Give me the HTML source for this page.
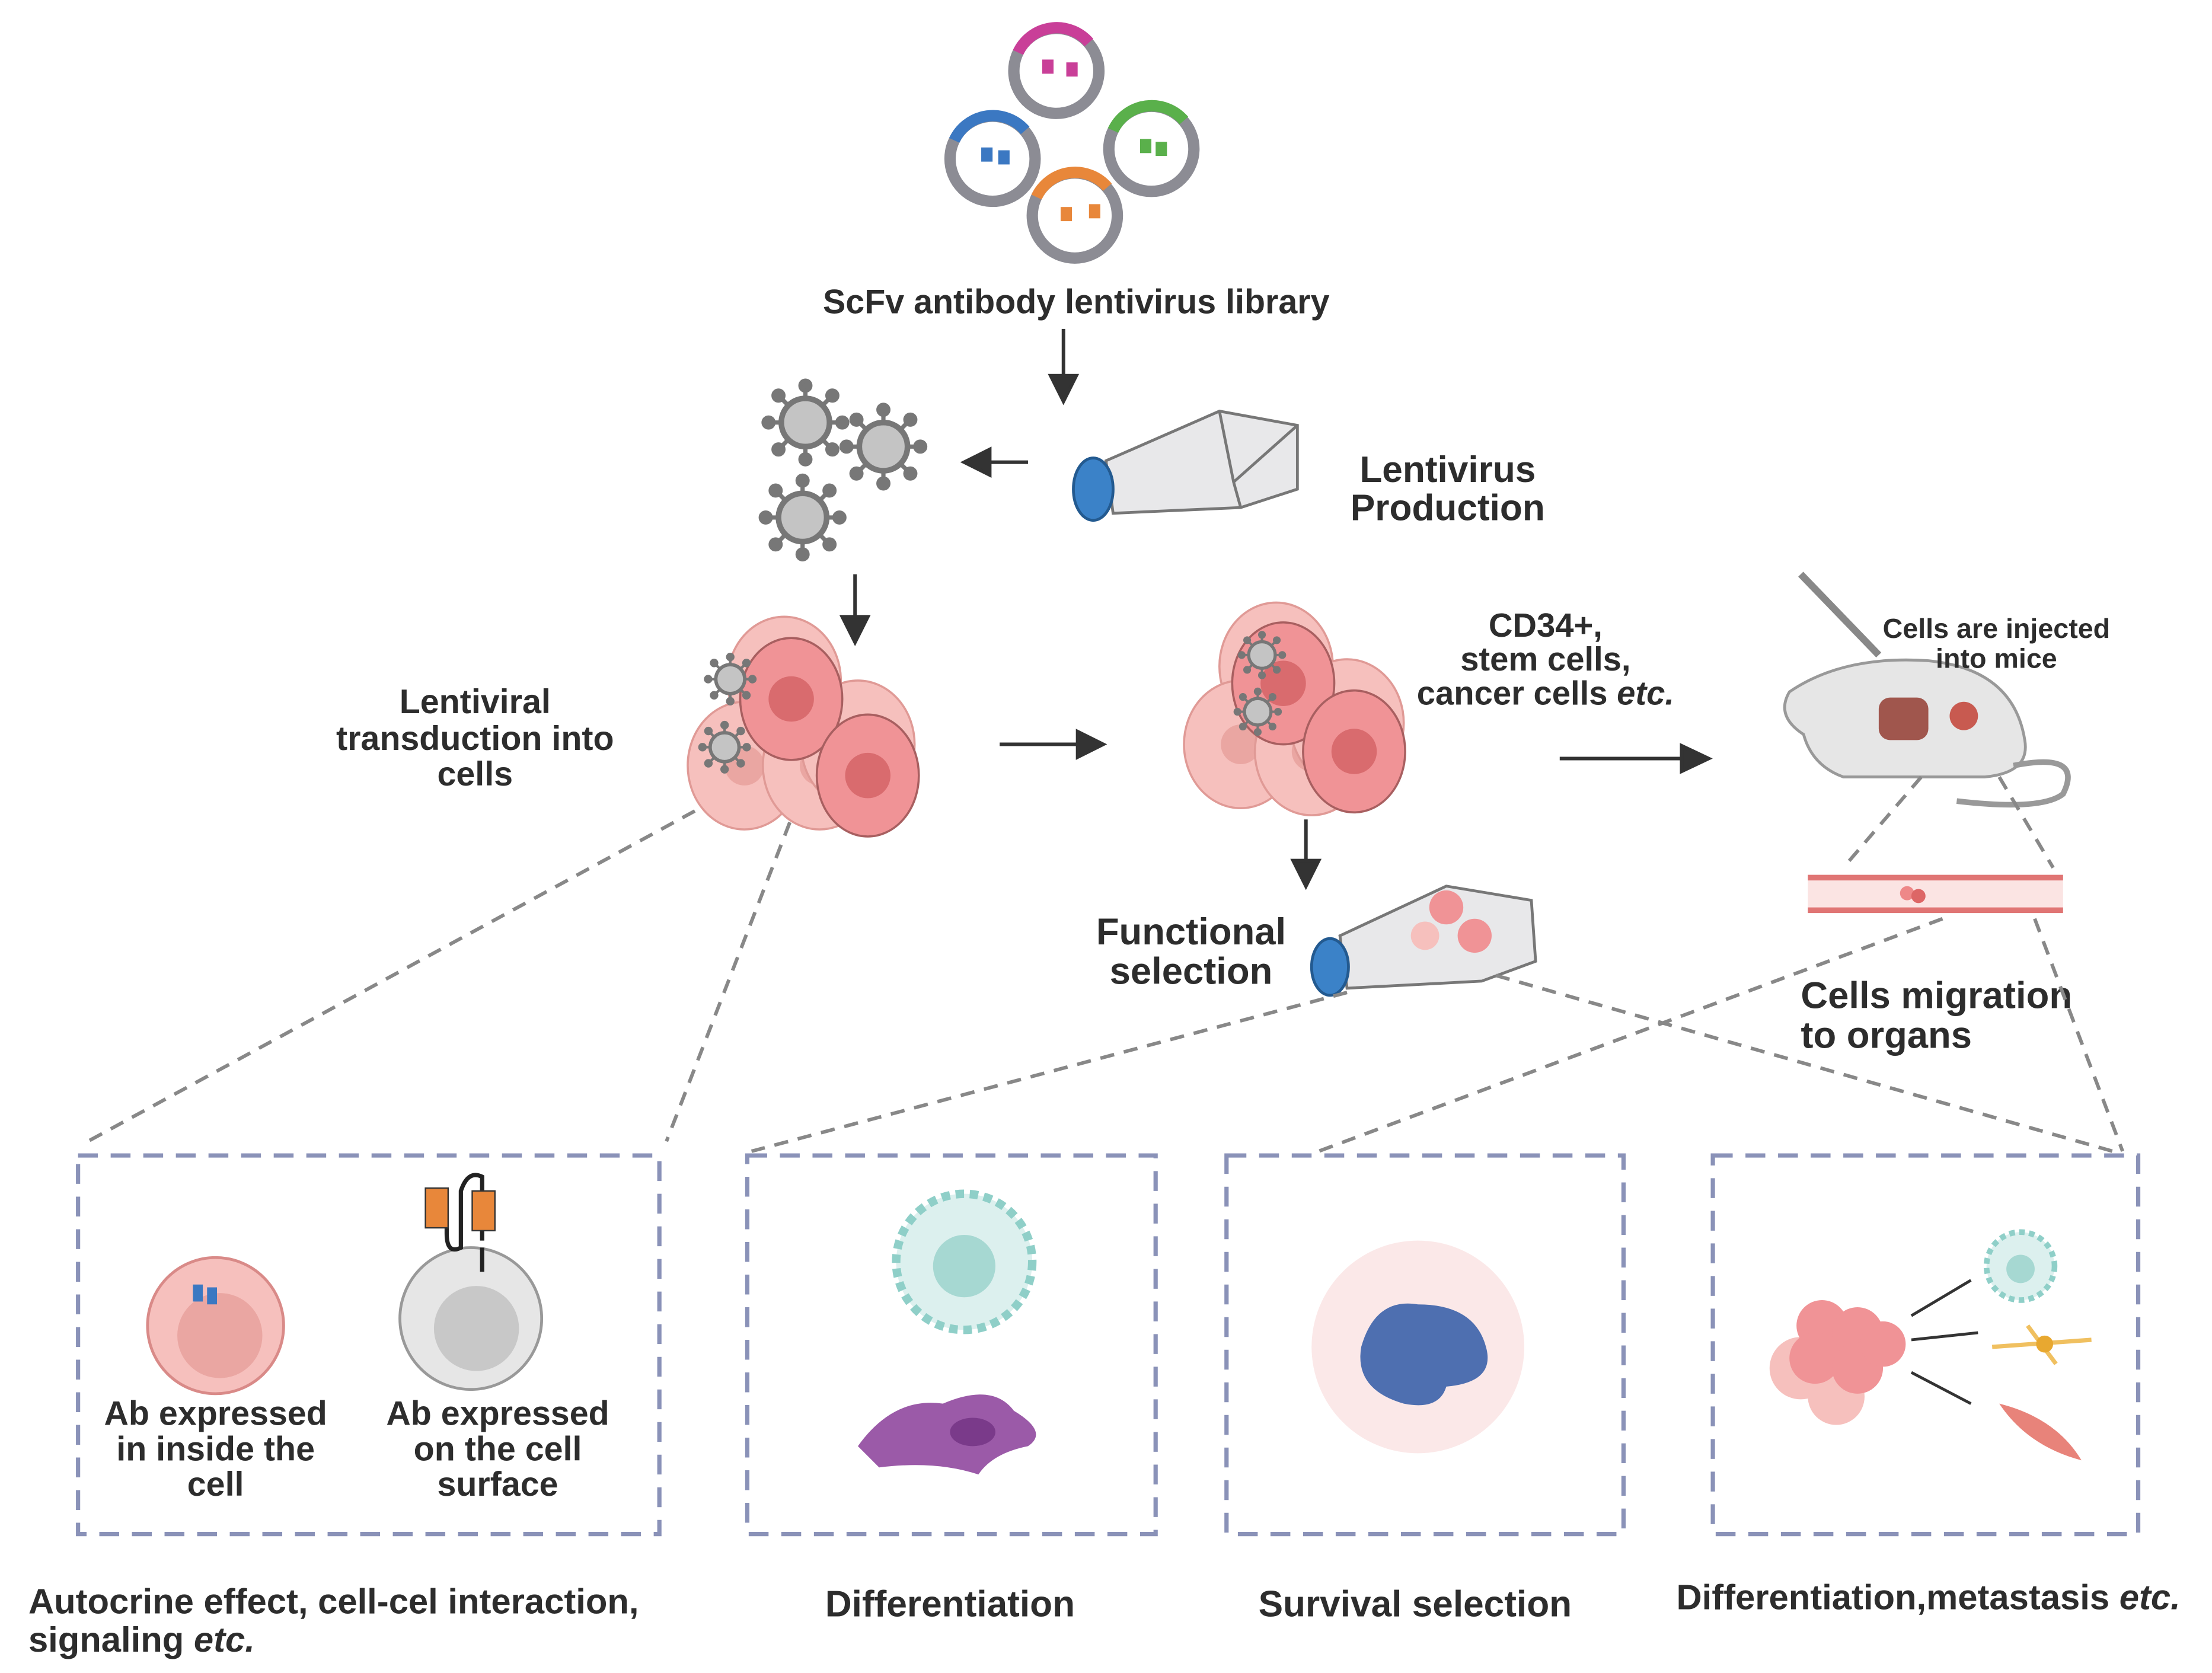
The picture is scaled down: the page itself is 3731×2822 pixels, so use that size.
<!DOCTYPE html>
<html><head><meta charset="utf-8"><style>
html,body{margin:0;padding:0;background:#fff}
svg{display:block}
text{font-family:"Liberation Sans",Arial,sans-serif;font-weight:bold;fill:#2d2d2d}
</style></head><body>
<svg width="3731" height="2822" viewBox="0 0 1560 1180" xmlns="http://www.w3.org/2000/svg">
<defs>
<g id="vir"><g stroke="#777" stroke-width="3" fill="#777">
<line x1="0" y1="-18" x2="0" y2="-25"/><circle cx="0" cy="-26" r="3.5"/>
<line x1="0" y1="18" x2="0" y2="25"/><circle cx="0" cy="26" r="3.5"/>
<line x1="-18" y1="0" x2="-25" y2="0"/><circle cx="-26" cy="0" r="3.5"/>
<line x1="18" y1="0" x2="25" y2="0"/><circle cx="26" cy="0" r="3.5"/>
<line x1="13" y1="13" x2="18" y2="18"/><circle cx="19" cy="19" r="3.5"/>
<line x1="-13" y1="13" x2="-18" y2="18"/><circle cx="-19" cy="19" r="3.5"/>
<line x1="13" y1="-13" x2="18" y2="-18"/><circle cx="19" cy="-19" r="3.5"/>
<line x1="-13" y1="-13" x2="-18" y2="-18"/><circle cx="-19" cy="-19" r="3.5"/></g>
<circle r="17" fill="#c4c4c4" stroke="#777" stroke-width="4"/></g>
<g id="lcell"><ellipse rx="40" ry="45" fill="#f6c0bd" stroke="#e09a96" stroke-width="1.5"/><circle r="14" fill="#eaa6a2"/></g>
<g id="dcell"><ellipse rx="36" ry="43" fill="#f09396" stroke="#a85f60" stroke-width="1.5"/><circle r="16" fill="#d96b6e"/></g>
</defs>
<g stroke="#333" stroke-width="2.5" fill="#333">
<line x1="750" y1="232" x2="750" y2="268"/><path d="M741,265 L759,265 L750,283Z"/>
<line x1="725" y1="326" x2="696" y2="326"/><path d="M698,317 L698,335 L680,326Z"/>
<line x1="603" y1="405" x2="603" y2="438"/><path d="M594,435 L612,435 L603,453Z"/>
<line x1="705" y1="525" x2="762" y2="525"/><path d="M760,516 L760,534 L778,525Z"/>
<line x1="1100" y1="535" x2="1188" y2="535"/><path d="M1186,526 L1186,544 L1205,535Z"/>
<line x1="921" y1="578" x2="921" y2="610"/><path d="M912,607 L930,607 L921,625Z"/>
</g>
<g fill="none" stroke-width="8">
<circle cx="745" cy="50" r="30" stroke="#8c8c94"/><path d="M718,37 A30,30 0 0 1 768,30" stroke="#c93f98"/>
<circle cx="700" cy="112" r="30" stroke="#8c8c94"/><path d="M673,99 A30,30 0 0 1 723,92" stroke="#3b78c2"/>
<circle cx="812" cy="105" r="30" stroke="#8c8c94"/><path d="M785,92 A30,30 0 0 1 835,85" stroke="#5ab04b"/>
<circle cx="758" cy="152" r="30" stroke="#8c8c94"/><path d="M731,139 A30,30 0 0 1 781,132" stroke="#e8873a"/>
</g>
<g><rect x="735" y="42" width="8" height="10" fill="#c93f98"/><rect x="752" y="44" width="8" height="10" fill="#c93f98"/>
<rect x="692" y="104" width="8" height="10" fill="#3b78c2"/><rect x="704" y="106" width="8" height="10" fill="#3b78c2"/>
<rect x="804" y="98" width="8" height="10" fill="#5ab04b"/><rect x="815" y="100" width="8" height="10" fill="#5ab04b"/>
<rect x="748" y="146" width="8" height="10" fill="#e8873a"/><rect x="768" y="144" width="8" height="10" fill="#e8873a"/></g>
<text x="759" y="221" font-size="24" text-anchor="middle">ScFv antibody lentivirus library</text>
<g stroke="#777" stroke-width="2">
<path d="M780,325 L860,290 L915,300 L915,345 L875,358 L785,362Z" fill="#e8e8ea"/>
<path d="M860,290 L870,340 L875,358 M870,340 L915,300" fill="none"/>
</g>
<ellipse cx="771" cy="345" rx="14" ry="22" fill="#3b82c8" stroke="#235a90" stroke-width="2"/>
<text x="1021" y="340" font-size="26" text-anchor="middle">Lentivirus</text>
<text x="1021" y="367" font-size="26" text-anchor="middle">Production</text>
<use href="#vir" x="568" y="298"/><use href="#vir" x="623" y="315"/><use href="#vir" x="566" y="365"/>
<use href="#lcell" x="553" y="480"/><use href="#lcell" x="525" y="540"/><use href="#lcell" x="578" y="540"/><use href="#lcell" x="605" y="525"/>
<use href="#dcell" x="558" y="493"/><use href="#dcell" x="612" y="547"/>
<use href="#vir" x="515" y="479" transform="translate(515 479) scale(.6) translate(-515 -479)"/>
<use href="#vir" x="511" y="527" transform="translate(511 527) scale(.6) translate(-511 -527)"/>
<text x="335" y="503" font-size="24" text-anchor="middle">Lentiviral</text>
<text x="335" y="529" font-size="24" text-anchor="middle">transduction into</text>
<text x="335" y="554" font-size="24" text-anchor="middle">cells</text>
<use href="#lcell" x="900" y="470"/><use href="#lcell" x="875" y="525"/><use href="#lcell" x="925" y="530"/><use href="#lcell" x="950" y="510"/>
<use href="#dcell" x="905" y="482"/><use href="#dcell" x="955" y="530"/>
<use href="#vir" x="890" y="462" transform="translate(890 462) scale(.55) translate(-890 -462)"/>
<use href="#vir" x="887" y="502" transform="translate(887 502) scale(.55) translate(-887 -502)"/>
<text x="1090" y="449" font-size="23.5" text-anchor="middle">CD34+,</text>
<text x="1090" y="473" font-size="23.5" text-anchor="middle">stem cells,</text>
<text x="1090" y="497" font-size="23.5" text-anchor="middle">cancer cells <tspan font-style="italic">etc.</tspan></text>
<line x1="1270" y1="405" x2="1325" y2="462" stroke="#888" stroke-width="5"/>
<path d="M1262,488 Q1300,462 1360,466 Q1420,472 1428,522 Q1432,545 1400,548 L1300,548 Q1278,540 1272,518 Q1252,505 1262,488Z" fill="#e6e6e6" stroke="#999" stroke-width="2"/>
<path d="M1420,540 Q1470,530 1455,560 Q1440,572 1380,565" fill="none" stroke="#999" stroke-width="4"/>
<rect x="1325" y="492" width="35" height="30" rx="8" fill="#a0564d"/><circle cx="1385" cy="505" r="10" fill="#c85a50"/>
<text x="1408" y="450" font-size="19.5" text-anchor="middle">Cells are injected</text>
<text x="1408" y="471" font-size="19.5" text-anchor="middle">into mice</text>
<rect x="1275" y="617" width="180" height="26" fill="#fbe4e3"/>
<line x1="1275" y1="619" x2="1455" y2="619" stroke="#e07574" stroke-width="4"/>
<line x1="1275" y1="642" x2="1455" y2="642" stroke="#e07574" stroke-width="4"/>
<circle cx="1345" cy="630" r="5" fill="#e88"/><circle cx="1353" cy="632" r="5" fill="#d66"/>
<text x="1270" y="711" font-size="26.5">Cells migration</text>
<text x="1270" y="739" font-size="26.5">to organs</text>
<g stroke="#777" stroke-width="2">
<path d="M945,660 L1020,625 L1080,635 L1083,678 L1045,692 L950,697Z" fill="#e8e8ea"/>
</g>
<circle cx="1020" cy="640" r="12" fill="#f09396"/><circle cx="1040" cy="660" r="12" fill="#f09396"/><circle cx="1005" cy="660" r="10" fill="#f6c0bd"/>
<ellipse cx="938" cy="682" rx="13" ry="20" fill="#3b82c8" stroke="#235a90" stroke-width="2"/>
<text x="840" y="666" font-size="26.5" text-anchor="middle">Functional</text>
<text x="840" y="694" font-size="26.5" text-anchor="middle">selection</text>
<g stroke="#888" stroke-width="2.5" stroke-dasharray="10,7" fill="none">
<line x1="490" y1="572" x2="62" y2="805"/><line x1="557" y1="580" x2="470" y2="805"/>
<line x1="950" y1="700" x2="530" y2="812"/><line x1="1055" y1="688" x2="1490" y2="812"/>
<line x1="1370" y1="648" x2="930" y2="812"/><line x1="1435" y1="648" x2="1497" y2="812"/>
<line x1="1355" y1="548" x2="1300" y2="612"/><line x1="1410" y1="548" x2="1448" y2="612"/>
</g>
<g stroke="#8a92b8" stroke-width="3" stroke-dasharray="14,9" fill="none">
<rect x="55" y="815" width="410" height="267"/><rect x="527" y="815" width="288" height="267"/>
<rect x="865" y="815" width="280" height="267"/><rect x="1208" y="815" width="300" height="267"/>
</g>
<circle cx="152" cy="935" r="48" fill="#f6c0bd" stroke="#d98a88" stroke-width="2"/><circle cx="155" cy="942" r="30" fill="#eaa6a2"/>
<rect x="136" y="906" width="7" height="12" fill="#3b78c2"/><rect x="146" y="908" width="7" height="12" fill="#3b78c2"/>
<circle cx="332" cy="930" r="50" fill="#e6e6e6" stroke="#999" stroke-width="2"/><circle cx="336" cy="937" r="30" fill="#c8c8c8"/>
<line x1="340" y1="880" x2="340" y2="897" stroke="#222" stroke-width="3"/>
<path d="M315,840 L315,870 Q315,885 325,880 L325,840 Q330,825 340,830 L340,875" fill="none" stroke="#222" stroke-width="3"/>
<rect x="300" y="838" width="16" height="28" fill="#e8873a" stroke="#333"/><rect x="333" y="840" width="16" height="28" fill="#e8873a" stroke="#333"/>
<text x="152" y="1005" font-size="24" text-anchor="middle">Ab expressed</text>
<text x="152" y="1030" font-size="24" text-anchor="middle">in inside the</text>
<text x="152" y="1055" font-size="24" text-anchor="middle">cell</text>
<text x="351" y="1005" font-size="24" text-anchor="middle">Ab expressed</text>
<text x="351" y="1030" font-size="24" text-anchor="middle">on the cell</text>
<text x="351" y="1055" font-size="24" text-anchor="middle">surface</text>
<circle cx="680" cy="890" r="48" fill="#dcf0ee" stroke="#8fcfc8" stroke-width="6" stroke-dasharray="6,4"/><circle cx="680" cy="893" r="22" fill="#a6d8d2"/>
<path d="M605,1020 Q630,985 665,990 Q700,975 715,995 Q740,1010 725,1020 Q700,1025 690,1040 Q660,1030 620,1035Z" fill="#9b5aa8"/>
<ellipse cx="686" cy="1010" rx="16" ry="10" fill="#7a3a8a"/>
<circle cx="1000" cy="950" r="75" fill="#fbe8e8"/>
<path d="M960,950 Q970,915 1000,920 Q1040,920 1048,950 Q1055,975 1020,978 Q1015,995 990,990 Q955,980 960,950Z" fill="#4e6fb0"/>
<circle cx="1270" cy="965" r="22" fill="#f6c0bd"/><circle cx="1295" cy="985" r="20" fill="#f6c0bd"/>
<circle cx="1285" cy="935" r="18" fill="#f09396"/><circle cx="1310" cy="940" r="18" fill="#f09396"/><circle cx="1280" cy="958" r="18" fill="#f09396"/><circle cx="1310" cy="965" r="18" fill="#f09396"/><circle cx="1328" cy="948" r="16" fill="#f09396"/>
<g stroke="#333" stroke-width="2"><line x1="1348" y1="928" x2="1390" y2="903"/><line x1="1348" y1="945" x2="1395" y2="940"/><line x1="1348" y1="968" x2="1390" y2="990"/></g>
<circle cx="1425" cy="893" r="24" fill="#dcf0ee" stroke="#8fcfc8" stroke-width="4" stroke-dasharray="4,3"/><circle cx="1425" cy="895" r="10" fill="#a6d8d2"/>
<path d="M1405,950 L1475,945 M1430,935 L1450,962" stroke="#f0c060" stroke-width="3"/><circle cx="1442" cy="948" r="6" fill="#e8a830"/>
<path d="M1410,990 Q1450,1000 1468,1030 Q1430,1020 1410,990Z" fill="#e8837a"/>
<text x="20" y="1138" font-size="25">Autocrine effect, cell-cel interaction,</text>
<text x="20" y="1165" font-size="25">signaling <tspan font-style="italic">etc.</tspan></text>
<text x="670" y="1140" font-size="26" text-anchor="middle">Differentiation</text>
<text x="998" y="1140" font-size="26" text-anchor="middle">Survival selection</text>
<text x="1360" y="1135" font-size="25" text-anchor="middle">Differentiation,metastasis <tspan font-style="italic">etc.</tspan></text>
</svg>
</body></html>
